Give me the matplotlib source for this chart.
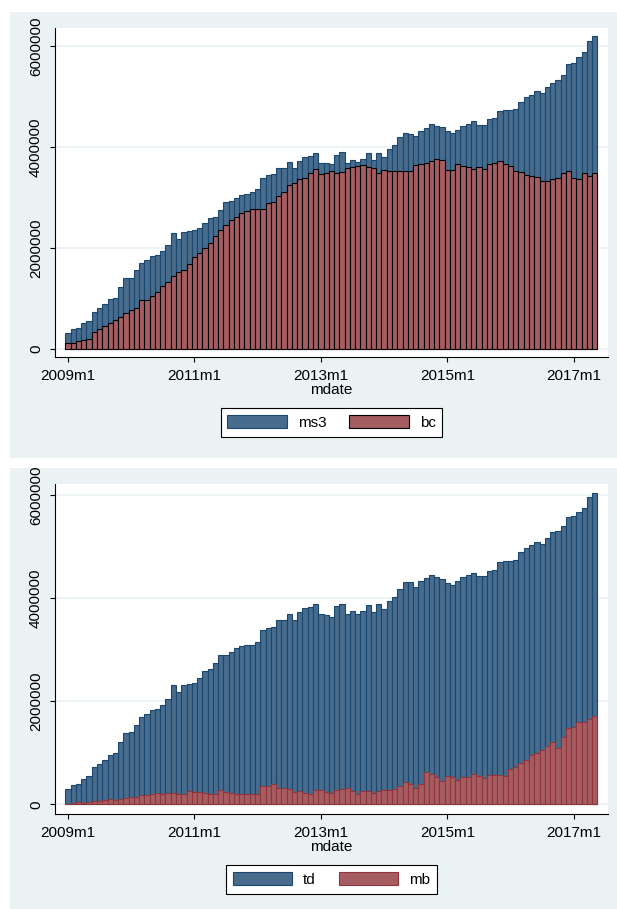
import numpy as np
import matplotlib
matplotlib.use("Agg")
import matplotlib.pyplot as plt
from matplotlib.patches import Rectangle, Patch

# month index 0 = 2009m1, last bar = 2017m5
tick_pos = [0, 24, 48, 72, 96]
tick_labels = ["2009m1", "2011m1", "2013m1", "2015m1", "2017m1"]
y_ticks = [0, 2000000, 4000000, 6000000]
y_labels = ["0", "2000000", "4000000", "6000000"]

# values in millions
ms3 = [0.313, 0.393, 0.40, 0.50, 0.553, 0.72, 0.80, 0.88, 0.987, 1.00,
       1.22, 1.393, 1.407, 1.56, 1.70, 1.76, 1.84, 1.86, 1.933, 2.047,
       2.30, 2.167, 2.313, 2.333, 2.347, 2.387, 2.487, 2.593, 2.613, 2.753,
       2.913, 2.927, 2.987, 3.047, 3.067, 3.10, 3.16, 3.38, 3.45, 3.47,
       3.59, 3.59, 3.71, 3.59, 3.73, 3.81, 3.83, 3.89, 3.69, 3.69,
       3.66, 3.85, 3.90, 3.69, 3.75, 3.71, 3.77, 3.88, 3.75, 3.89,
       3.81, 3.95, 4.03, 4.19, 4.27, 4.25, 4.21, 4.31, 4.37, 4.45,
       4.41, 4.39, 4.31, 4.27, 4.33, 4.42, 4.46, 4.51, 4.44, 4.44,
       4.55, 4.58, 4.71, 4.74, 4.74, 4.76, 4.90, 4.99, 5.03, 5.11,
       5.07, 5.19, 5.27, 5.32, 5.43, 5.64, 5.66, 5.78, 5.89, 6.11,
       6.21]
bc = [0.113, 0.12, 0.147, 0.18, 0.20, 0.32, 0.38, 0.447, 0.507, 0.56,
      0.62, 0.713, 0.767, 0.807, 0.96, 0.96, 1.04, 1.12, 1.247, 1.32,
      1.433, 1.527, 1.56, 1.68, 1.82, 1.90, 2.00, 2.10, 2.233, 2.36,
      2.46, 2.547, 2.62, 2.68, 2.72, 2.767, 2.76, 2.773, 2.88, 2.90,
      3.027, 3.10, 3.24, 3.28, 3.36, 3.38, 3.49, 3.57, 3.46, 3.48,
      3.53, 3.49, 3.51, 3.59, 3.61, 3.62, 3.65, 3.61, 3.58, 3.49,
      3.55, 3.53, 3.53, 3.53, 3.53, 3.53, 3.65, 3.67, 3.69, 3.73,
      3.77, 3.75, 3.55, 3.55, 3.67, 3.63, 3.60, 3.57, 3.60, 3.57,
      3.67, 3.69, 3.73, 3.67, 3.63, 3.53, 3.51, 3.45, 3.43, 3.41,
      3.33, 3.32, 3.36, 3.38, 3.48, 3.53, 3.39, 3.37, 3.49, 3.43,
      3.49]
td = [0.30, 0.377, 0.396, 0.494, 0.552, 0.714, 0.779, 0.864, 0.961, 0.994,
      1.208, 1.377, 1.409, 1.546, 1.695, 1.76, 1.838, 1.857, 1.916, 2.033,
      2.305, 2.175, 2.305, 2.338, 2.357, 2.455, 2.578, 2.617, 2.734, 2.903,
      2.903, 2.961, 3.026, 3.065, 3.098, 3.098, 3.15, 3.38, 3.42, 3.44,
      3.58, 3.58, 3.68, 3.58, 3.73, 3.81, 3.82, 3.88, 3.68, 3.67,
      3.64, 3.84, 3.89, 3.68, 3.74, 3.68, 3.74, 3.86, 3.73, 3.88,
      3.79, 3.94, 4.01, 4.18, 4.31, 4.31, 4.21, 4.32, 4.38, 4.44,
      4.40, 4.36, 4.29, 4.26, 4.32, 4.40, 4.45, 4.49, 4.42, 4.42,
      4.53, 4.55, 4.70, 4.72, 4.71, 4.73, 4.90, 4.97, 5.03, 5.09,
      5.05, 5.17, 5.27, 5.30, 5.40, 5.57, 5.58, 5.66, 5.74, 5.96,
      6.03]
mb = [0.01, 0.026, 0.045, 0.032, 0.045, 0.058, 0.058, 0.084, 0.097, 0.091,
      0.097, 0.13, 0.149, 0.143, 0.175, 0.188, 0.20, 0.214, 0.20, 0.214,
      0.214, 0.20, 0.20, 0.253, 0.24, 0.247, 0.214, 0.20, 0.20, 0.279,
      0.24, 0.227, 0.20, 0.20, 0.195, 0.195, 0.20, 0.364, 0.364, 0.39,
      0.325, 0.312, 0.299, 0.247, 0.266, 0.214, 0.208, 0.273, 0.286, 0.247,
      0.221, 0.286, 0.305, 0.318, 0.266, 0.208, 0.266, 0.266, 0.214, 0.266,
      0.279, 0.286, 0.299, 0.364, 0.442, 0.396, 0.318, 0.403, 0.623, 0.597,
      0.532, 0.461, 0.545, 0.539, 0.468, 0.526, 0.526, 0.584, 0.558, 0.507,
      0.571, 0.571, 0.565, 0.558, 0.675, 0.714, 0.799, 0.851, 0.948, 0.994,
      1.059, 1.13, 1.214, 1.097, 1.312, 1.481, 1.494, 1.604, 1.604, 1.662,
      1.721]

# Stata s2color look
BG = "#EAF2F3"
BLUE = "#486C8C"
NAVY = "#1A476F"
RED = "#A65D62"
MAROON = "#90353B"

plt.rcParams['font.family'] = ['Liberation Sans', 'DejaVu Sans']
plt.rcParams['font.size'] = 11

W, H = 617, 909
fig = plt.figure(figsize=(W / 100, H / 100), dpi=100)


def box(x0, y0, x1, y1):
    # pixel box (top-left origin) -> figure fraction [l, b, w, h]
    return [x0 / W, 1 - y1 / H, (x1 - x0) / W, (y1 - y0) / H]


# graph region backgrounds (drawn under the axes)
for (x0, y0, x1, y1) in [(10, 12, 617, 458), (10, 468, 617, 909)]:
    l, b, w, h = box(x0, y0, x1, y1)
    fig.patches.append(Rectangle((l, b), w, h, transform=fig.transFigure,
                                 facecolor=BG, edgecolor="none", zorder=-10))

months = np.arange(len(ms3))

panels = [
    dict(rect=(55, 28, 608, 357), ylim=(-167000, 6360000),
         back=ms3, front=bc, names=("ms3", "bc"), front_edge="black",
         legend_y=422.3),
    dict(rect=(55, 484, 608, 814), ylim=(-188000, 6210000),
         back=td, front=mb, names=("td", "mb"), front_edge=MAROON,
         legend_y=879.3),
]

for p in panels:
    ax = fig.add_axes(box(*p["rect"]))
    ax.set_facecolor("white")
    back = np.array(p["back"]) * 1e6
    front = np.array(p["front"]) * 1e6

    ax.bar(months, back, width=1.0, color=BLUE, edgecolor=NAVY, linewidth=0.8, zorder=2)
    ax.bar(months, front, width=1.0, color=RED, edgecolor=p["front_edge"], linewidth=0.8, zorder=3)

    ax.set_xlim(-2.47, 102.5)
    ax.set_ylim(*p["ylim"])
    ax.set_yticks(y_ticks, y_labels)
    ax.set_xticks(tick_pos, tick_labels)
    plt.setp(ax.get_yticklabels(), rotation=90, va="center")

    ax.grid(axis="y", color=BG, linewidth=1.2, zorder=1)
    ax.set_axisbelow(True)
    for s in ["top", "right"]:
        ax.spines[s].set_visible(False)
    for s in ["left", "bottom"]:
        ax.spines[s].set_linewidth(0.8)
    ax.tick_params(direction="out", length=3.6, width=0.8, pad=5, labelsize=11)
    ax.set_xlabel("mdate", fontsize=11, labelpad=0)

    handles = [Patch(facecolor=BLUE, edgecolor=NAVY, linewidth=0.8),
               Patch(facecolor=RED, edgecolor=p["front_edge"], linewidth=0.8)]
    leg = ax.legend(handles, p["names"], loc="center",
                    bbox_to_anchor=(331.5 / W, 1 - p["legend_y"] / H),
                    bbox_transform=fig.transFigure, ncol=2, fancybox=False,
                    edgecolor="black", framealpha=1, fontsize=11,
                    handlelength=3.9, handleheight=1.0, handletextpad=0.7,
                    columnspacing=1.5, borderpad=0.45)
    leg.get_frame().set_linewidth(0.8)

fig.savefig("out.png", dpi=100)
